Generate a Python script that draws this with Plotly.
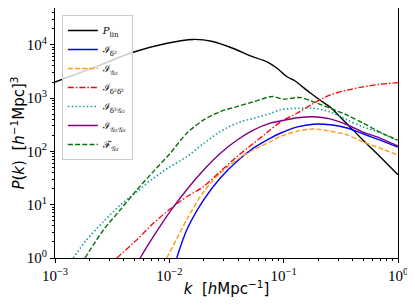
import plotly.graph_objects as go

# ---- data ----
k_lin = [0.001, 0.00248, 0.00481, 0.00955, 0.0162, 0.024, 0.0363, 0.0513, 0.0716,
         0.0875, 0.107, 0.126, 0.139, 0.170, 0.209, 0.255, 0.311, 0.380, 0.495, 0.697, 1.0]
P_lin = [2000, 4170, 7240, 10700, 12600, 11500, 8510, 6170, 4790,
         3630, 2510, 2090, 1780, 1260, 912, 676, 447, 288, 162, 79.4, 36.3]

k_d2 = [0.01161, 0.01419, 0.01995, 0.0278, 0.0389, 0.0543, 0.0760, 0.0933, 0.132, 0.182,
        0.255, 0.359, 0.495, 0.697, 1.0]
I_d2 = [1, 3.35, 12.3, 31.3, 64.6, 115, 176, 219, 288, 324, 316, 275, 214, 162, 120]

k_G2 = [0.00948, 0.01161, 0.01419, 0.01995, 0.0278, 0.0389, 0.0543, 0.0760, 0.0933, 0.132,
        0.182, 0.255, 0.359, 0.495, 0.697, 1.0]
I_G2 = [1, 2.29, 5.25, 17.5, 38.9, 69.2, 107, 151, 191, 240, 263, 240, 204, 151, 115, 85.1]

k_d2d2 = [0.00347, 0.00519, 0.00724, 0.01014, 0.01419, 0.01995, 0.0278, 0.0389, 0.0543,
          0.0760, 0.0933, 0.132, 0.182, 0.255, 0.359, 0.495, 0.697, 1.0]
I_d2d2 = [1, 2.19, 4.47, 8.32, 14.1, 21.9, 41.7, 79.4, 141, 251, 355, 525, 794, 1148,
          1413, 1622, 1820, 1950]

k_d2G2 = [0.001445, 0.00189, 0.00265, 0.00371, 0.00519, 0.00724, 0.01014, 0.01419, 0.01995,
          0.0278, 0.0389, 0.0543, 0.0760, 0.0933, 0.132, 0.182, 0.255, 0.359, 0.495, 0.697, 1.0]
I_d2G2 = [1, 2.19, 4.79, 9.77, 17.5, 31.3, 51.6, 79.4, 141, 234, 339, 417, 513, 603, 646,
          646, 550, 389, 288, 224, 158]

k_G2G2 = [0.00555, 0.00724, 0.01014, 0.01419, 0.01995, 0.0278, 0.0389, 0.0543, 0.0760,
          0.0933, 0.132, 0.182, 0.255, 0.359, 0.495, 0.697, 1.0]
I_G2G2 = [1, 2.51, 7.41, 19.1, 44.7, 91.2, 162, 251, 339, 372, 427, 447, 407, 316, 229,
          178, 126]

k_F = [0.00183, 0.00265, 0.00371, 0.00519, 0.00724, 0.01014, 0.01419, 0.01995, 0.0278,
       0.0389, 0.0543, 0.0794, 0.0989, 0.139, 0.182, 0.255, 0.359, 0.495, 0.697, 1.0]
F_G2 = [1, 3.35, 7.94, 18.9, 41.7, 91.2, 219, 389, 556, 692, 851, 1072, 955, 1023, 851,
        646, 479, 339, 229, 162]

names = ["<i>P</i><sub>lin</sub>",
         "ℐ<sub>δ²</sub>",
         "ℐ<sub>𝒢₂</sub>",
         "ℐ<sub>δ²δ²</sub>",
         "ℐ<sub>δ²𝒢₂</sub>",
         "ℐ<sub>𝒢₂𝒢₂</sub>",
         "ℱ<sub>𝒢₂</sub>"]

x_tickvals = [0.001, 0.01, 0.1, 1]
x_ticktext = ["10<sup>−3</sup>", "10<sup>−2</sup>", "10<sup>−1</sup>", "10<sup>0</sup>"]
y_tickvals = [1, 10, 100, 1000, 10000]
y_ticktext = ["10<sup>0</sup>", "10<sup>1</sup>", "10<sup>2</sup>", "10<sup>3</sup>", "10<sup>4</sup>"]

DASH = "5px,2.2px"
DASHDOT = "6px,2px,1.5px,2px"
DOT = "1.5px,2.3px"

series = [
    (k_lin, P_lin, "black", "solid", 1.4),
    (k_d2, I_d2, "#0000ff", "solid", 1.4),
    (k_G2, I_G2, "#ff9a1a", DASH, 1.4),
    (k_d2d2, I_d2d2, "#ff0000", DASHDOT, 1.3),
    (k_d2G2, I_d2G2, "#1a9a9a", DOT, 1.6),
    (k_G2G2, I_G2G2, "#800080", "solid", 1.4),
    (k_F, F_G2, "#0a6e0a", DASH, 1.4),
]

fig = go.Figure()
for (kx, py, col, dash, w), nm in zip(series, names):
    fig.add_trace(go.Scatter(x=kx, y=py, mode="lines", name=nm,
                             line=dict(color=col, dash=dash, width=w,
                                       shape="spline", smoothing=0.8)))


def minor_vals(lo, hi):
    out = []
    for e in range(lo, hi):
        for m in range(2, 10):
            out.append(m * 10.0 ** e)
    return out


def axis_style(tv, tt, mv):
    return dict(type="log", showline=True, linecolor="black", linewidth=1,
                mirror=True, ticks="outside", ticklen=4, tickcolor="black",
                showgrid=False, zeroline=False, tickmode="array",
                tickvals=tv, ticktext=tt,
                tickfont=dict(family="Liberation Serif", size=15, color="black"),
                minor=dict(ticks="outside", ticklen=2, tickcolor="black",
                           showgrid=False, tickmode="array", tickvals=mv))


# page body has an 8px margin: figure is sized so the plot lands where the reference has it
fig.update_layout(
    width=407, height=297,
    margin=dict(l=47, r=17, t=0, b=47),
    plot_bgcolor="white", paper_bgcolor="white",
    font=dict(family="DejaVu Sans", color="black"),
    xaxis=dict(range=[-3, 0], **axis_style(x_tickvals, x_ticktext, minor_vals(-3, 0)),
               title=dict(text="<i>k</i>  [<i>h</i>Mpc<sup>−1</sup>]",
                          font=dict(size=15), standoff=0)),
    yaxis=dict(range=[0, 4.69], **axis_style(y_tickvals, y_ticktext, minor_vals(0, 5)),
               title=dict(text="<i>P</i>(<i>k</i>)  [<i>h</i><sup>−1</sup>Mpc]<sup>3</sup>",
                          font=dict(size=15), standoff=4)),
    legend=dict(x=0.02, y=0.972, xanchor="left", yanchor="top",
                bgcolor="rgba(255,255,255,0.8)", bordercolor="#cccccc", borderwidth=1,
                font=dict(family="DejaVu Serif", size=10), itemwidth=30,
                tracegroupgap=0),
    showlegend=True,
)

fig.write_html("out.html")
